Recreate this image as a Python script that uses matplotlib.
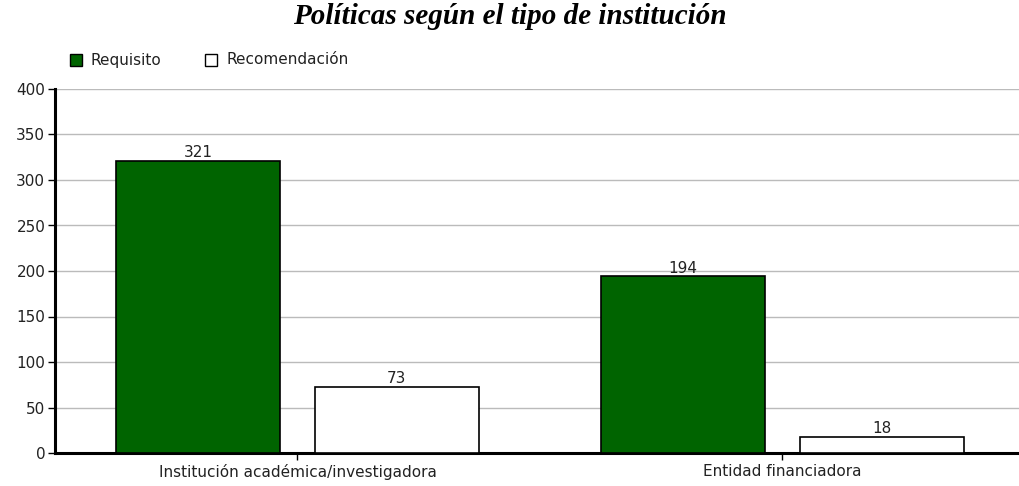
import matplotlib.pyplot as plt
import numpy as np
from matplotlib.patches import Rectangle

categorias = ['Institución académica/investigadora', 'Entidad financiadora']
requisito = [321, 194]
recomendacion = [73, 18]
series = ['Requisito', 'Recomendación']
yticks = [0, 50, 100, 150, 200, 250, 300, 350, 400]

verde = '#006400'

fig = plt.figure(figsize=(10.19, 4.86), dpi=100)
ax = fig.add_axes([55 / 1019, 33 / 486, 964 / 1019, 364 / 486])

x = np.arange(len(categorias))
ancho = 0.338
desp = 0.205

b1 = ax.bar(x - desp, requisito, ancho, color=verde, edgecolor='black', linewidth=1.2, zorder=3)
b2 = ax.bar(x + desp, recomendacion, ancho, color='white', edgecolor='black', linewidth=1.2, zorder=3)

for barras in (b1, b2):
    for b in barras:
        ax.text(b.get_x() + b.get_width() / 2, b.get_height() + 1, str(int(b.get_height())),
                ha='center', va='bottom', fontsize=11, color='#222222')

ax.set_xlim(-0.5, 1.488)
ax.set_ylim(0, 400)
ax.set_yticks(yticks)
ax.set_xticks(x)
ax.set_xticklabels(categorias, fontsize=11, color='#222222')
ax.tick_params(axis='y', labelsize=11, labelcolor='#222222', length=5, width=1, pad=2)
ax.tick_params(axis='x', length=5, width=1, pad=3)
ax.yaxis.grid(True, color='#bbbbbb', linewidth=1, zorder=0)
ax.set_axisbelow(True)
for lado in ('top', 'right'):
    ax.spines[lado].set_visible(False)
ax.spines['left'].set_linewidth(2.2)
ax.spines['bottom'].set_linewidth(2.2)

fig.text(0.5, 1 - 16 / 486, 'Políticas según el tipo de institución', ha='center', va='center',
         fontsize=21, fontweight='bold', fontstyle='italic', family='Liberation Serif')

# leyenda a mano arriba a la izquierda
colores = [verde, 'white']
pos_x = [70, 205]
for nombre, col, px in zip(series, colores, pos_x):
    fig.patches.append(Rectangle((px / 1019, 1 - 66 / 486), 12 / 1019, 12 / 486,
                                 facecolor=col, edgecolor='black', linewidth=1,
                                 transform=fig.transFigure, figure=fig))
    fig.text((px + 21) / 1019, 1 - 60 / 486, nombre, ha='left', va='center', fontsize=11,
             color='#222222')

fig.savefig('out.png', dpi=100)
